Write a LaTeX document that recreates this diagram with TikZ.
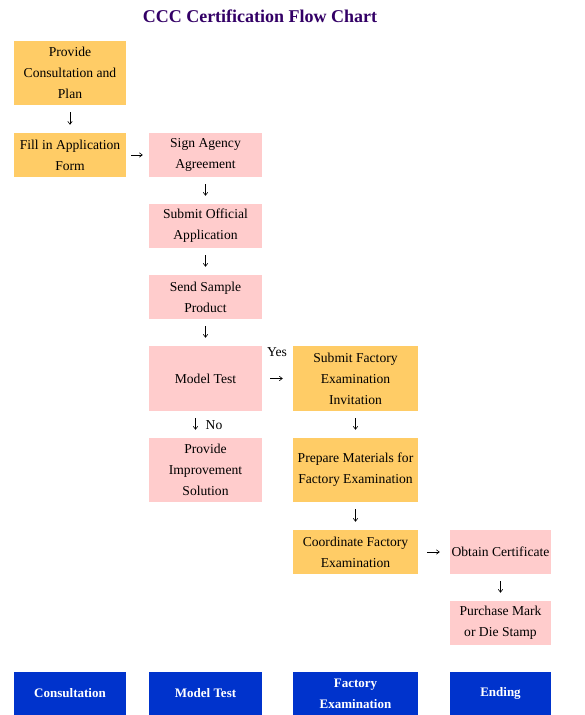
\documentclass[tikz,border=0pt]{standalone}
\usepackage{fontspec}
\setmainfont{Liberation Serif}
\usetikzlibrary{arrows.meta}
\definecolor{orangeflow}{HTML}{FFCC66}
\definecolor{pinkflow}{HTML}{FFCCCC}
\definecolor{blueflow}{HTML}{0033CC}
\definecolor{titleflow}{HTML}{330066}

\begin{document}
\begin{tikzpicture}[x=1pt,y=-1pt,
    font={\fontsize{13.6}{21}\selectfont},
    orangebox/.style={fill=orangeflow,align=center,inner sep=0pt,minimum height=44},
    pinkbox/.style={fill=pinkflow,align=center,inner sep=0pt,minimum height=44},
    bluebox/.style={fill=blueflow,text=white,align=center,inner sep=0pt,minimum height=43,
        font={\fontsize{13}{21}\selectfont\bfseries}},
    flowarrow/.style={-{Straight Barb[length=3pt,width=4.5pt]},line width=0.6pt,
        shorten <=7pt,shorten >=8pt}]

    \useasboundingbox (0,0) rectangle (584,715);

    \node[font={\fontsize{18}{22}\selectfont\bfseries},text=titleflow] (title) at (260,16)
    {CCC Certification Flow Chart};

    % consultation
    \node[orangebox,minimum width=112,minimum height=64] (consult) at (70,73)
    {Provide\\Consultation and\\Plan};
    \node[orangebox,minimum width=112] (fillin) at (70,155)
    {Fill in Application\\Form};

    % model test
    \node[pinkbox,minimum width=113] (sign) at (205.5,155) {Sign Agency\\Agreement};
    \node[pinkbox,minimum width=113] (submit) at (205.5,226) {Submit Official\\Application};
    \node[pinkbox,minimum width=113] (sample) at (205.5,297) {Send Sample\\Product};
    \node[pinkbox,minimum width=113,minimum height=65] (model) at (205.5,378.5) {Model Test};
    \node[pinkbox,minimum width=113,minimum height=64] (improve) at (205.5,470)
    {Provide\\Improvement\\Solution};

    % factory examination
    \node[orangebox,minimum width=125,minimum height=65] (invite) at (355.5,378.5)
    {Submit Factory\\Examination\\Invitation};
    \node[orangebox,minimum width=125,minimum height=64] (prepare) at (355.5,470)
    {Prepare Materials for\\Factory Examination};
    \node[orangebox,minimum width=125] (coord) at (355.5,552)
    {Coordinate Factory\\Examination};

    % ending
    \node[pinkbox,minimum width=101] (obtain) at (500.5,552) {Obtain Certificate};
    \node[pinkbox,minimum width=101] (purchase) at (500.5,623)
    {Purchase Mark\\or Die Stamp};

    % phases
    \node[bluebox,minimum width=112] (phaseA) at (70,693.5) {Consultation};
    \node[bluebox,minimum width=113] (phaseB) at (205.5,693.5) {Model Test};
    \node[bluebox,minimum width=125] (phaseC) at (355.5,693.5) {Factory\\Examination};
    \node[bluebox,minimum width=101] (phaseD) at (500.5,693.5) {Ending};

    \draw[flowarrow] (consult) -- (fillin);
    \draw[flowarrow,shorten <=5pt,shorten >=6pt] (fillin) -- (sign);
    \draw[flowarrow] (sign) -- (submit);
    \draw[flowarrow] (submit) -- (sample);
    \draw[flowarrow] (sample) -- (model);
    \draw[flowarrow,shorten <=8pt,shorten >=10pt] (model) -- (invite);
    \draw[flowarrow] ([xshift=-10]model.south) -- ([xshift=-10]improve.north);
    \draw[flowarrow] (invite) -- (prepare);
    \draw[flowarrow] (prepare) -- (coord);
    \draw[flowarrow,shorten <=9pt,shorten >=10pt] (coord) -- (obtain);
    \draw[flowarrow] (obtain) -- (purchase);

    \node (yes) at (277,352) {Yes};
    \node (no) at (214,425) {No};

\end{tikzpicture}
\end{document}
